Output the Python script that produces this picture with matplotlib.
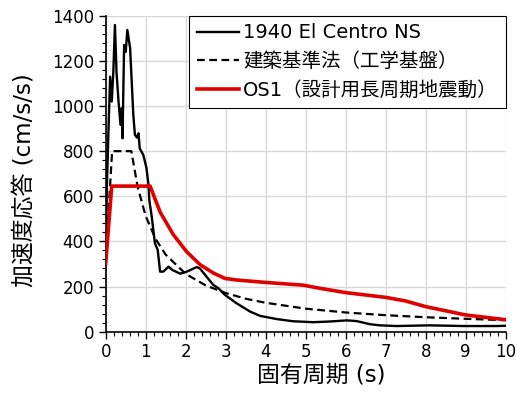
import matplotlib
matplotlib.use("Agg")
import matplotlib.pyplot as plt
from matplotlib.ticker import MultipleLocator

# Latin in DejaVu (wide, like the original), kana/kanji fall back to Noto CJK
plt.rcParams['font.family'] = ['DejaVu Sans', 'Noto Sans CJK JP']

# 1940 El Centro NS
elc_T = [0.0, 0.03, 0.07, 0.11, 0.15, 0.19, 0.23, 0.27, 0.32, 0.37, 0.40, 0.42,
         0.46, 0.50, 0.54, 0.61, 0.69, 0.73, 0.78, 0.82, 0.85, 0.94, 1.02, 1.07,
         1.09, 1.15, 1.23, 1.30, 1.36, 1.44, 1.57, 1.67, 1.86, 2.03, 2.27, 2.35,
         2.52, 2.69, 2.82, 2.98, 3.27, 3.61, 3.86, 4.27, 4.69, 5.19, 5.60, 6.03,
         6.27, 6.61, 6.86, 7.27, 8.10, 8.94, 9.77, 10.0]
elc_A = [340, 650, 900, 1130, 1020, 1150, 1359, 1150, 1020, 916, 990, 857,
         1270, 1240, 1337, 1256, 960, 872, 860, 879, 812, 783, 724, 650,
         583, 510, 392, 362, 266, 266, 288, 273, 257, 266, 286, 281,
         244, 207, 192, 163, 126, 89, 70, 56, 46, 42, 45, 50,
         47, 33, 28, 25, 28, 25, 25, 26]

# 建築基準法 (工学基盤)
bsl_T = [0.0, 0.16, 0.64, 0.8, 1.0, 1.25, 1.5, 2.0, 2.5, 3.0, 3.5, 4.0, 5.0,
         6.0, 7.0, 8.0, 9.0, 10.0]
bsl_A = [320, 800, 800, 640, 512, 410, 341, 256, 205, 171, 146, 128, 102,
         85, 73, 64, 57, 51]

# OS1 (設計用長周期地震動)
os1_T = [0.0, 0.15, 1.11, 1.36, 1.69, 2.02, 2.36, 2.69, 2.98, 3.27, 3.94,
         4.94, 5.36, 6.0, 7.0, 7.5, 8.0, 9.0, 10.0]
os1_A = [303, 645, 645, 530, 430, 355, 297, 260, 236, 229, 219,
         206, 192, 173, 152, 136, 111, 74, 53]

fig = plt.figure(figsize=(5.17, 4.03), dpi=100)
ax = fig.add_axes([0.2045, 0.177, 0.7735, 0.784])

ax.plot(elc_T, elc_A, color='black', lw=1.7, label='1940 El Centro NS', zorder=3)
ax.plot(bsl_T, bsl_A, color='black', lw=1.6, ls=(0, (3.5, 2)),
        label='建築基準法（工学基盤）', zorder=3)
ax.plot(os1_T, os1_A, color='#e00000', lw=2.6,
        label='OS1（設計用長周期地震動）', zorder=4)

ax.set_xlim(0, 10)
ax.set_ylim(0, 1400)
ax.xaxis.set_major_locator(MultipleLocator(1))
ax.xaxis.set_minor_locator(MultipleLocator(0.2))
ax.yaxis.set_major_locator(MultipleLocator(200))
ax.yaxis.set_minor_locator(MultipleLocator(40))
ax.grid(True, which='major', color='#d9d9d9', lw=1.0)
ax.set_axisbelow(True)

for s in ['top', 'right']:
    ax.spines[s].set_visible(False)
for s in ['left', 'bottom']:
    ax.spines[s].set_linewidth(1.2)

ax.tick_params(which='major', direction='out', length=5, width=1.0, labelsize=12)
ax.tick_params(which='minor', direction='out', length=3, width=0.8)

ax.set_xlabel('固有周期 (s)', fontsize=16.5)
ax.set_ylabel('加速度応答 (cm/s/s)', fontsize=16.5)
ax.xaxis.set_label_coords(0.538, -0.1)
ax.yaxis.set_label_coords(-0.172, 0.48)

leg = ax.legend(loc='upper right', fontsize=14, frameon=True, fancybox=False,
                borderaxespad=0, handlelength=2.2, handletextpad=0.2,
                labelspacing=0.5, borderpad=0.4)
leg.get_frame().set_edgecolor('black')
leg.get_frame().set_linewidth(0.8)
leg.get_frame().set_alpha(1)

fig.savefig('out.png', dpi=100)
